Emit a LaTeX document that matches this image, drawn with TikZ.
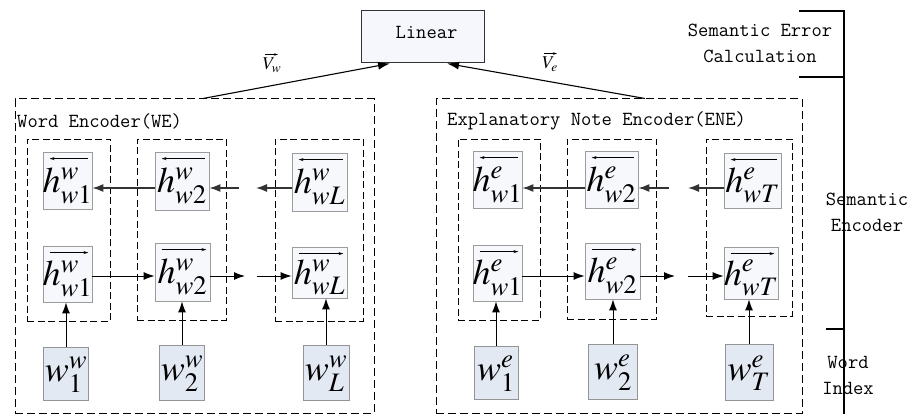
\documentclass[tikz,border=0pt]{standalone}
\usepackage{mathptmx}
\usetikzlibrary{arrows.meta}

\definecolor{hfill}{HTML}{F6F8FC}
\definecolor{hbord}{HTML}{9C9C9C}
\definecolor{wfill}{HTML}{E3E9F3}
\definecolor{wbord}{HTML}{949494}
\definecolor{linfill}{HTML}{F5F7FC}

\tikzset{
  txt/.style={font=\fontsize{20}{26}\selectfont\ttfamily, inner sep=0pt, align=center},
  mth/.style={font=\fontsize{36}{40}\selectfont, inner sep=0pt},
  vlab/.style={font=\fontsize{18}{20}\selectfont, inner sep=0pt},
  hbox/.style={draw=hbord, fill=hfill, line width=0.8pt, inner sep=0pt},
  wbox/.style={draw=wbord, fill=wfill, line width=0.8pt, inner sep=0pt},
  outerbox/.style={draw, line width=1pt, dash pattern=on 8pt off 4pt, inner sep=0pt},
  innerbox/.style={draw, line width=0.9pt, dash pattern=on 7pt off 3.5pt, inner sep=0pt},
  arr/.style={line width=1pt, -{Latex[length=11pt,width=8pt]}},
  barr/.style={line width=1.3pt, draw=black!80, -{Latex[length=11pt,width=8pt]}},
  ovar/.style={line width=0.6pt},
  ovl/.style={ovar, {Stealth[length=5pt,width=3pt]}-},
  ovr/.style={ovar, -{Stealth[length=5pt,width=3pt]}},
  bracket/.style={line width=1.8pt}
}

% hidden-state cell: name, x, y, width, height, label, over-arrow style
\newcommand\hcell[7]{%
  \node[hbox, minimum width=#4, minimum height=#5] (#1) at (#2,#3) {};
  \node[mth] (#1-t) at ([yshift=-5pt]#1.center) {$#6$};
  \draw[#7] ([xshift=7pt,yshift=-7pt]#1.north west) -- ([xshift=-4pt,yshift=-7pt]#1.north east);
}
% word-index cell: name, x, y, width, height, label
\newcommand\wcell[6]{%
  \node[wbox, minimum width=#4, minimum height=#5] (#1) at (#2,#3) {};
  \node[mth] (#1-t) at ([yshift=-1pt]#1.center) {$#6$};
}

\begin{document}
\begin{tikzpicture}[x=1pt,y=-1pt]
\useasboundingbox (0,0) rectangle (913,414);

% rows of the recurrent connections
\coordinate (rowb) at (0,188);
\coordinate (rowf) at (0,276);

% ---------------- output layer ----------------
\node[draw=black!80, fill=linfill, line width=1pt, minimum width=123pt, minimum height=52pt,
      inner sep=0pt] (lin) at (422.5,37) {};
\node[txt] (lin-t) at (426.5,32) {Linear};

% ---------------- outer encoders ----------------
\node[outerbox, minimum width=359pt, minimum height=314pt] (we) at (194.5,256) {};
\node[outerbox, minimum width=366pt, minimum height=314pt] (ene) at (619,256) {};
\node[txt, anchor=west] (we-t) at (17,121) {Word Encoder(WE)};
\node[txt, anchor=west] (ene-t) at (447,121) {Explanatory Note Encoder(ENE)};

% ---------------- Word Encoder ----------------
\node[innerbox, minimum width=83pt, minimum height=182pt] (wg1) at (68.5,230) {};
\node[innerbox, minimum width=89pt, minimum height=181pt] (wg2) at (181.5,229.5) {};
\node[innerbox, minimum width=88pt, minimum height=182pt] (wg3) at (319,230) {};

\hcell{h1b}{67.5}{180.5}{49pt}{57pt}{h^{w}_{w1}}{ovl}
\hcell{h2b}{182}{181}{54pt}{58pt}{h^{w}_{w2}}{ovl}
\hcell{hLb}{319.5}{182}{55pt}{58pt}{h^{w}_{wL}}{ovl}
\hcell{h1f}{67.5}{274}{49pt}{56pt}{h^{w}_{w1}}{ovr}
\hcell{h2f}{182.5}{272}{55pt}{58pt}{h^{w}_{w2}}{ovr}
\hcell{hLf}{319.5}{272.5}{55pt}{51pt}{h^{w}_{wL}}{ovr}

\wcell{w1}{66}{373.5}{45pt}{53pt}{w^{w}_{1}}
\wcell{w2}{182}{372.5}{45pt}{55pt}{w^{w}_{2}}
\wcell{wL}{326}{372.5}{46pt}{55pt}{w^{w}_{L}}

\draw[arr] (w1.north) -- (w1.north |- h1f.south);
\draw[arr] (w2.north) -- (w2.north |- h2f.south);
\draw[arr] (wL.north) -- (wL.north |- hLf.south);

\coordinate (wgb1) at (239,188);
\coordinate (wgb2) at (256,188);
\draw[barr] (h2b.west |- rowb) -- (h1b.east |- rowb);
\draw[barr] (wgb1) -- (h2b.east |- rowb);
\draw[barr] (hLb.west |- rowb) -- (wgb2);

\coordinate (wgf1) at (245,276);
\coordinate (wgf2) at (257,276);
\draw[arr] (h1f.east |- rowf) -- (h2f.west |- rowf);
\draw[arr] (h2f.east |- rowf) -- (wgf1);
\draw[arr] (wgf2) -- (hLf.west |- rowf);

% ---------------- Explanatory Note Encoder ----------------
\node[innerbox, minimum width=82pt, minimum height=181pt] (eg1) at (499,229.5) {};
\node[innerbox, minimum width=89pt, minimum height=180pt] (eg2) at (611.5,229) {};
\node[innerbox, minimum width=86pt, minimum height=177pt] (eg3) at (749,227.5) {};

\hcell{e1b}{497.5}{179.5}{49pt}{57pt}{h^{e}_{w1}}{ovl}
\hcell{e2b}{611.5}{179.5}{53pt}{57pt}{h^{e}_{w2}}{ovl}
\hcell{eTb}{752.5}{180.5}{57pt}{55pt}{h^{e}_{wT}}{ovl}
\hcell{e1f}{497.5}{273}{49pt}{56pt}{h^{e}_{w1}}{ovr}
\hcell{e2f}{612.5}{271}{55pt}{56pt}{h^{e}_{w2}}{ovr}
\hcell{eTf}{751}{273}{54pt}{52pt}{h^{e}_{wT}}{ovr}

\wcell{x1}{496}{372.5}{44pt}{53pt}{w^{e}_{1}}
\wcell{x2}{613}{371.5}{49pt}{55pt}{w^{e}_{2}}
\wcell{xT}{749}{372}{48pt}{56pt}{w^{e}_{T}}

\draw[arr] (x1.north) -- (x1.north |- e1f.south);
\draw[arr] (x2.north) -- (x2.north |- e2f.south);
\draw[arr] (xT.north) -- (xT.north |- eTf.south);

\coordinate (egb1) at (669,188);
\coordinate (egb2) at (688,188);
\draw[barr] (e2b.west |- rowb) -- (e1b.east |- rowb);
\draw[barr] (egb1) -- (e2b.east |- rowb);
\draw[barr] (eTb.west |- rowb) -- (egb2);

\coordinate (egf1) at (675,276);
\coordinate (egf2) at (688,276);
\draw[arr] (e1f.east |- rowf) -- (e2f.west |- rowf);
\draw[arr] (e2f.east |- rowf) -- (egf1);
\draw[arr] (egf2) -- (eTf.west |- rowf);

% ---------------- sentence vectors ----------------
\draw[line width=1.1pt, -{Latex[length=12pt,width=8pt]}] ([xshift=8.5pt]we.north) -- ([xshift=-32.5pt]lin.south);
\draw[line width=1.1pt, -{Latex[length=12pt,width=8pt]}] ([xshift=26pt]ene.north) -- ([xshift=24.5pt]lin.south);
\node[vlab] (vw) at (272,65) {$V_{w}$};
\node[vlab] (ve) at (550,64) {$V_{e}$};
\draw[ovar, -{Stealth[length=4pt,width=2.6pt]}] ([xshift=-7pt,yshift=3pt]vw.north) -- ([xshift=6pt,yshift=3pt]vw.north);
\draw[ovar, -{Stealth[length=4pt,width=2.6pt]}] ([xshift=-6pt,yshift=3pt]ve.north) -- ([xshift=7pt,yshift=3pt]ve.north);

% ---------------- stage bracket ----------------
\coordinate (bt) at (844,11);
\coordinate (bb) at (844,414);
\coordinate (t1) at (799,11);
\coordinate (t2) at (799,77);
\coordinate (t2r) at (844,77);
\coordinate (t3) at (826,329);
\coordinate (t3r) at (844,329);
\draw[bracket] (t1) -- (bt) -- (bb);
\draw[bracket] (t2) -- (t2r);
\draw[bracket] (t3) -- (t3r);

\node[txt] (sec) at (760,43) {Semantic Error\\Calculation};
\node[txt] (se) at (867,212) {Semantic\\Encoder};
\node[txt] (wi) at (848,375) {Word\\Index};
\end{tikzpicture}
\end{document}
